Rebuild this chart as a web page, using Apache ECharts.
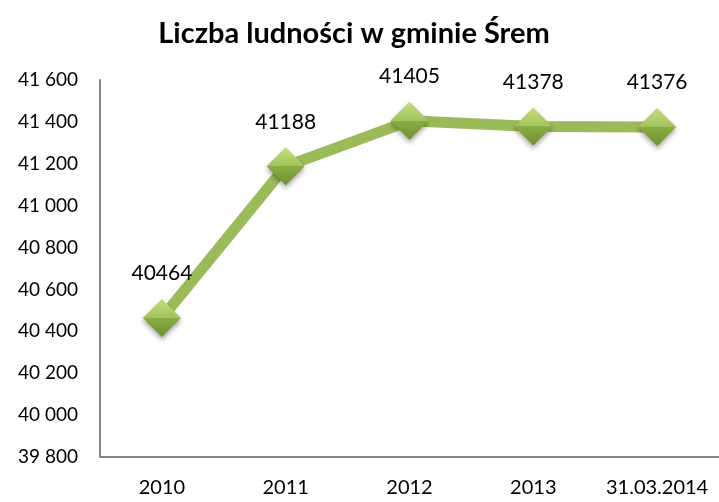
<!DOCTYPE html>
<html>
<head>
<meta charset="utf-8">
<script src="https://cdn.jsdelivr.net/npm/echarts@6/dist/echarts.min.js"></script>
<style>
  html, body { margin: 0; padding: 0; background: #fff; }
  #chart { width: 719px; height: 502px; }
</style>
</head>
<body>
<div id="chart"></div>
<script>
const categories = ['2010', '2011', '2012', '2013', '31.03.2014'];
const population = [40464, 41188, 41405, 41378, 41376];
const yMin = 39800;
const yMax = 41600;
const yStep = 200;

const font = 'Lato, "Open Sans", sans-serif';

// diament z jasną górą i ciemniejszym dołem
const diamondFill = new echarts.graphic.LinearGradient(0, 0, 0, 1, [
  { offset: 0, color: '#c4df7e' },
  { offset: 0.5, color: '#a2c35c' },
  { offset: 0.5, color: '#8bad45' },
  { offset: 1, color: '#6f9030' }
]);

const chart = echarts.init(document.getElementById('chart'));
chart.setOption({
  animation: false,
  title: {
    text: 'Liczba ludności w gminie Śrem',
    left: 349,
    textAlign: 'center',
    top: 14,
    textStyle: { fontFamily: font, fontSize: 29, fontWeight: 'bold', color: '#000' }
  },
  grid: { left: 100, right: 0, top: 80, bottom: 45 },
  xAxis: {
    type: 'category',
    data: categories,
    boundaryGap: true,
    axisLine: { lineStyle: { color: '#868686', width: 2 } },
    axisTick: { show: false },
    axisLabel: { interval: 0, color: '#000', fontFamily: font, fontSize: 20, margin: 21 }
  },
  yAxis: {
    type: 'value',
    min: yMin,
    max: yMax,
    interval: yStep,
    axisLine: { show: true, lineStyle: { color: '#868686', width: 2 } },
    axisTick: { show: false },
    splitLine: { show: false },
    axisLabel: {
      color: '#000',
      fontFamily: font,
      fontSize: 19,
      margin: 22,
      formatter: v => String(v).replace(/\B(?=(\d{3})+(?!\d))/g, ' ')
    }
  },
  series: [{
    type: 'line',
    data: population,
    symbol: 'diamond',
    symbolSize: [38, 38],
    lineStyle: { color: '#9bbb59', width: 11 },
    itemStyle: {
      color: diamondFill,
      shadowColor: 'rgba(0,0,0,0.35)',
      shadowBlur: 5,
      shadowOffsetY: 3
    },
    label: {
      show: true,
      position: 'top',
      distance: 15,
      color: '#000',
      fontFamily: font,
      fontSize: 21
    }
  }]
});
</script>
</body>
</html>
